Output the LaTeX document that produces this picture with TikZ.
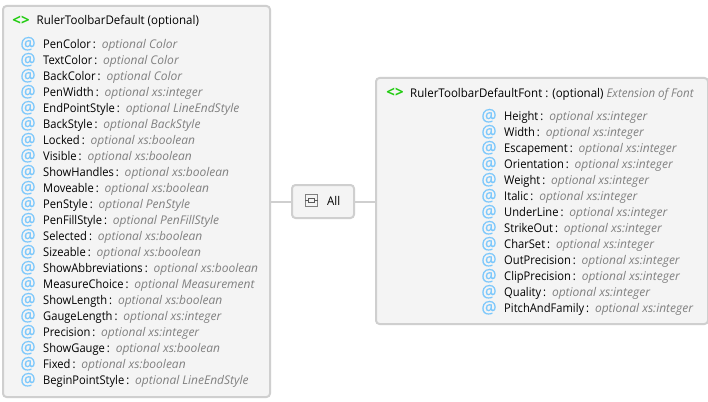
\documentclass[tikz,border=0pt]{standalone}
\usepackage{fontspec}
\setmainfont{Open Sans}[FakeStretch=0.93]
\newfontfamily\typefont{Open Sans}
\newfontfamily\titlefont{Open Sans}[FakeStretch=0.96]
\newfontfamily\iconfont{Open Sans}[FakeBold=0.4]
\definecolor{boxline}{HTML}{CFCFCF}
\definecolor{boxfill}{HTML}{F4F4F4}
\definecolor{typegray}{HTML}{808080}
\definecolor{atblue}{HTML}{7CC8FC}
\definecolor{tagreen}{HTML}{22CC11}
\tikzset{
  panel/.style={draw=boxline,fill=boxfill,line width=2pt,rounded corners=3.5pt,inner sep=0pt,anchor=north west},
  wire/.style={draw=boxline,line width=2pt},
  attr/.style={anchor=base west,inner sep=0pt,font=\fontsize{12}{14}\selectfont,text=black},
  aticon/.style={anchor=base,inner sep=0pt,font=\iconfont\fontsize{17}{17}\selectfont,text=atblue},
  tagicon/.style={anchor=base,inner sep=0pt,font=\typefont\fontsize{15}{15}\selectfont\bfseries,text=tagreen},
  titletext/.style={anchor=base west,inner sep=0pt,font=\titlefont\fontsize{12}{14}\selectfont,text=black},
}
\newcommand{\attrrow}[5]{%
  \node[aticon] (at#1) at (#2-15,#3+5) {@};
  \node[attr] (row#1) at (#2,#3+4.5) {#4\,:\, {\typefont\itshape\color{typegray}#5}};
}
\begin{document}
\begin{tikzpicture}[x=1pt,y=-1pt]
\useasboundingbox (0,0) rectangle (708,401);
\fill[white] (0,0) rectangle (708,401);
\node[panel,minimum width=267pt,minimum height=391pt] (left) at (2,5) {};
\node[panel,minimum width=332pt,minimum height=246pt] (right) at (375,77) {};
\node[panel,minimum width=62pt,minimum height=33pt] (all) at (291,184) {};
\draw[wire] (left.east |- all.west) -- (all.west);
\draw[wire] (all.east) -- (right.west |- all.east);

\node[tagicon] (tagL) at (21,25.5) {<>};
\node[titletext] (titleL) at (36.5,25) {RulerToolbarDefault (optional)};
\node[tagicon] (tagR) at (395,97.5) {<>};
\node[titletext] (titleR) at (410,97) {RulerToolbarDefaultFont : (optional) {\itshape\color{typegray}Extension of Font}};

\node[draw=typegray,fill=boxfill,line width=.8pt,minimum width=12pt,minimum height=12pt,inner sep=0pt] (glyph) at (311.5,200.5) {};
\draw[typegray!70!black,line width=.8pt] (glyph.west) -- (glyph.east);
\draw[typegray!70!black,fill=boxfill,line width=.8pt] (308.5,198.5) rectangle (314.5,202.5);
\node[titletext] (allt) at (327,205) {All};

\attrrow{a1}{43}{44}{PenColor}{optional Color}
\attrrow{a2}{43}{60}{TextColor}{optional Color}
\attrrow{a3}{43}{76}{BackColor}{optional Color}
\attrrow{a4}{43}{92}{PenWidth}{optional xs:integer}
\attrrow{a5}{43}{108}{EndPointStyle}{optional LineEndStyle}
\attrrow{a6}{43}{124}{BackStyle}{optional BackStyle}
\attrrow{a7}{43}{140}{Locked}{optional xs:boolean}
\attrrow{a8}{43}{156}{Visible}{optional xs:boolean}
\attrrow{a9}{43}{172}{ShowHandles}{optional xs:boolean}
\attrrow{a10}{43}{188}{Moveable}{optional xs:boolean}
\attrrow{a11}{43}{204}{PenStyle}{optional PenStyle}
\attrrow{a12}{43}{220}{PenFillStyle}{optional PenFillStyle}
\attrrow{a13}{43}{236}{Selected}{optional xs:boolean}
\attrrow{a14}{43}{252}{Sizeable}{optional xs:boolean}
\attrrow{a15}{43}{268}{ShowAbbreviations}{optional xs:boolean}
\attrrow{a16}{43}{284}{MeasureChoice}{optional Measurement}
\attrrow{a17}{43}{300}{ShowLength}{optional xs:boolean}
\attrrow{a18}{43}{316}{GaugeLength}{optional xs:integer}
\attrrow{a19}{43}{332}{Precision}{optional xs:integer}
\attrrow{a20}{43}{348}{ShowGauge}{optional xs:boolean}
\attrrow{a21}{43}{364}{Fixed}{optional xs:boolean}
\attrrow{a22}{43}{380}{BeginPointStyle}{optional LineEndStyle}

\attrrow{b1}{504}{116}{Height}{optional xs:integer}
\attrrow{b2}{504}{132}{Width}{optional xs:integer}
\attrrow{b3}{504}{148}{Escapement}{optional xs:integer}
\attrrow{b4}{504}{164}{Orientation}{optional xs:integer}
\attrrow{b5}{504}{180}{Weight}{optional xs:integer}
\attrrow{b6}{504}{196}{Italic}{optional xs:integer}
\attrrow{b7}{504}{212}{UnderLine}{optional xs:integer}
\attrrow{b8}{504}{228}{StrikeOut}{optional xs:integer}
\attrrow{b9}{504}{244}{CharSet}{optional xs:integer}
\attrrow{b10}{504}{260}{OutPrecision}{optional xs:integer}
\attrrow{b11}{504}{276}{ClipPrecision}{optional xs:integer}
\attrrow{b12}{504}{292}{Quality}{optional xs:integer}
\attrrow{b13}{504}{308}{PitchAndFamily}{optional xs:integer}
\end{tikzpicture}
\end{document}
